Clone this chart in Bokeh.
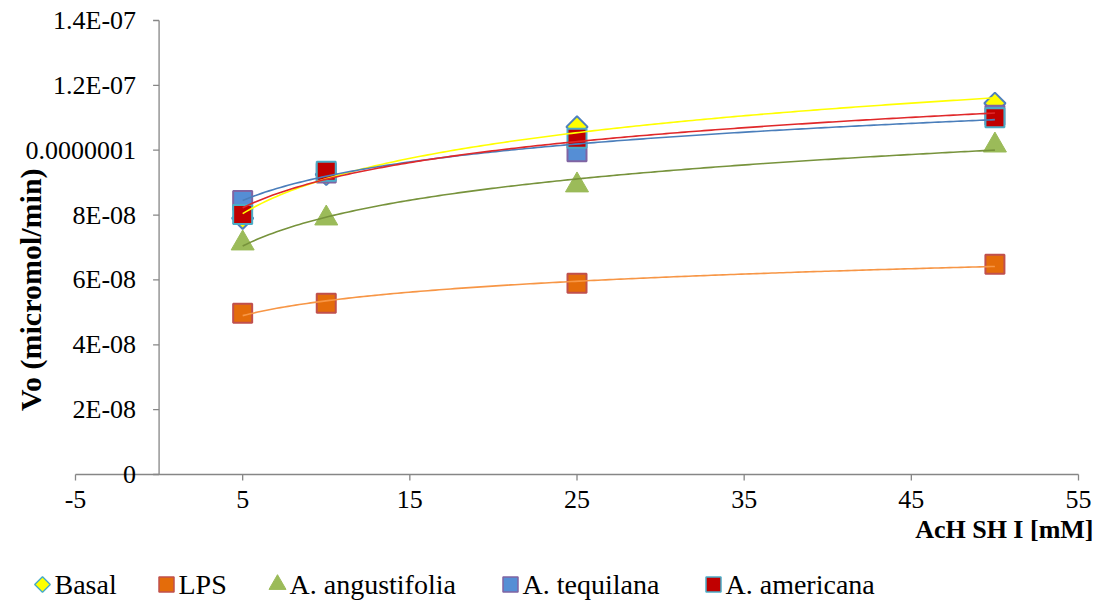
import numpy as np
from bokeh.plotting import figure
from bokeh.models import (Range1d, LabelSet, Label, ColumnDataSource)
from bokeh.embed import file_html
from bokeh.resources import INLINE

# ---- data ----
x_mm = [5, 10, 25, 50]
basal = [7.9e-8, 9.25e-8, 10.72e-8, 11.45e-8]
lps = [4.97e-8, 5.28e-8, 5.9e-8, 6.48e-8]
angustifolia = [7.13e-8, 7.9e-8, 8.92e-8, 10.15e-8]
tequilana = [8.45e-8, 9.3e-8, 9.95e-8, 11.08e-8]
americana = [8.02e-8, 9.35e-8, 10.37e-8, 11.0e-8]

series_names = ["Basal", "LPS", "A. angustifolia", "A. tequilana", "A. americana"]
series_values = [basal, lps, angustifolia, tequilana, americana]

x_ticks = [-5, 5, 15, 25, 35, 45, 55]
x_tick_labels = ["-5", "5", "15", "25", "35", "45", "55"]
y_ticks = [0, 2e-8, 4e-8, 6e-8, 8e-8, 1e-7, 1.2e-7, 1.4e-7]
y_tick_labels = ["0", "2E-08", "4E-08", "6E-08", "8E-08", "0.0000001", "1.2E-07", "1.4E-07"]

# ---- styles / layout ----
FONT = "Liberation Serif"
AXIS_GRAY = "#868686"
X_MIN, X_MAX = -5, 55
Y_MIN, Y_MAX = 0, 1.4e-7
FIG_W, FIG_H = 1100, 600
AX_LEFT, AX_TOP, AX_W, AX_H = 75, 20, 1003, 454   # pixel box of the axes (-5..55, 0..1.4e-7)
px_x = AX_W / (X_MAX - X_MIN)
px_y = AX_H / (Y_MAX - Y_MIN)


def px_to_x(px):
    return X_MIN + (px - AX_LEFT) / px_x


def px_to_y(py):
    return Y_MIN + (AX_TOP + AX_H - py) / px_y


marker_styles = [
    dict(marker="square", angle=np.pi / 4, size=15, fill_color="#FFFF00", line_color="#4F81BD", line_width=2),
    dict(marker="square", angle=0, size=19, fill_color="#E46C0A", line_color="#C0504D", line_width=2),
    dict(marker="triangle", angle=0, size=23, fill_color="#9BBB59", line_color="#9BBB59", line_width=1),
    dict(marker="square", angle=0, size=19, fill_color="#558ED5", line_color="#8064A2", line_width=2),
    dict(marker="square", angle=0, size=19, fill_color="#C00000", line_color="#4BACC6", line_width=2),
]
legend_key_styles = [
    dict(marker="square", angle=np.pi / 4, size=11, fill_color="#FFFF00", line_color="#4BACC6", line_width=1.5),
    dict(marker="square", angle=0, size=15, fill_color="#E46C0A", line_color="#C0504D", line_width=1.5),
    dict(marker="triangle", angle=0, size=17, fill_color="#9BBB59", line_color="#9BBB59", line_width=1),
    dict(marker="square", angle=0, size=15, fill_color="#558ED5", line_color="#8064A2", line_width=1.5),
    dict(marker="square", angle=0, size=15, fill_color="#C00000", line_color="#4BACC6", line_width=1.5),
]
trend_colors = ["#FFFF00", "#F79646", "#77933C", "#4A7EBB", "#E0282A"]
LEGEND_KEY_PX = [42, 166, 277, 510, 713]   # horizontal pixel centre of each legend key
LEGEND_ROW_PX = 584                          # vertical pixel centre of the legend row

p = figure(frame_width=FIG_W, frame_height=FIG_H,
           x_range=Range1d(px_to_x(0), px_to_x(FIG_W)),
           y_range=Range1d(px_to_y(FIG_H), px_to_y(0)),
           output_backend="svg", toolbar_location=None,
           x_axis_location=None, y_axis_location=None,
           min_border_left=0, min_border_top=0, min_border_right=0, min_border_bottom=0)
p.outline_line_color = None
p.grid.visible = False
p.background_fill_color = "white"
p.border_fill_color = "white"

# ---- axes (drawn at x = 0 and y = 0 in data space) ----
p.segment(x0=[X_MIN], y0=[0], x1=[X_MAX], y1=[0], line_color=AXIS_GRAY, line_width=1.3)
p.segment(x0=[0], y0=[Y_MIN], x1=[0], y1=[Y_MAX], line_color=AXIS_GRAY, line_width=1.3)
TICK = 6
p.segment(x0=x_ticks, y0=[0] * len(x_ticks), x1=x_ticks, y1=[-TICK / px_y] * len(x_ticks),
          line_color=AXIS_GRAY, line_width=1.3)
p.segment(x0=[0] * len(y_ticks), y0=y_ticks, x1=[-TICK / px_x] * len(y_ticks), y1=y_ticks,
          line_color=AXIS_GRAY, line_width=1.3)

ysrc = ColumnDataSource(dict(x=[-23 / px_x] * len(y_ticks), y=y_ticks, text=y_tick_labels))
p.add_layout(LabelSet(x="x", y="y", text="text", source=ysrc,
                      text_align="right", text_baseline="middle",
                      text_font=FONT, text_font_size="26px", text_color="black"))
xsrc = ColumnDataSource(dict(x=x_ticks, y=[-16 / px_y] * len(x_ticks), text=x_tick_labels))
p.add_layout(LabelSet(x="x", y="y", text="text", source=xsrc,
                      text_align="center", text_baseline="top",
                      text_font=FONT, text_font_size="26px", text_color="black"))

# axis titles
p.add_layout(Label(x=px_to_x(30), y=5.7e-8, angle=np.pi / 2, text="Vo (micromol/min)",
                   text_align="center", text_baseline="middle", text_font=FONT,
                   text_font_size="30px", text_font_style="bold", text_color="black"))
p.add_layout(Label(x=X_MAX + 15 / px_x, y=-40 / px_y, text="AcH SH I [mM]",
                   text_align="right", text_baseline="top", text_font=FONT,
                   text_font_size="26px", text_font_style="bold", text_color="black"))

# ---- markers, then trend lines on top ----
for vals, st in zip(series_values, marker_styles):
    p.scatter(x_mm, vals, **st)

xs_fit = np.linspace(min(x_mm), max(x_mm), 200)
for vals, c in zip(series_values, trend_colors):
    a, b = np.polyfit(np.log(x_mm), vals, 1)
    p.line(xs_fit, a * np.log(xs_fit) + b, line_color=c, line_width=1.6)

# ---- legend (one row below the axis title) ----
row_y = px_to_y(LEGEND_ROW_PX)
for kx, st in zip(LEGEND_KEY_PX, legend_key_styles):
    p.scatter([px_to_x(kx)], [row_y], **st)
lsrc = ColumnDataSource(dict(x=[px_to_x(kx + 12) for kx in LEGEND_KEY_PX],
                             y=[row_y] * len(series_names), text=series_names))
p.add_layout(LabelSet(x="x", y="y", text="text", source=lsrc,
                      text_align="left", text_baseline="middle",
                      text_font=FONT, text_font_size="28px", text_color="black"))

open("out.html", "w").write(file_html(p, INLINE))
